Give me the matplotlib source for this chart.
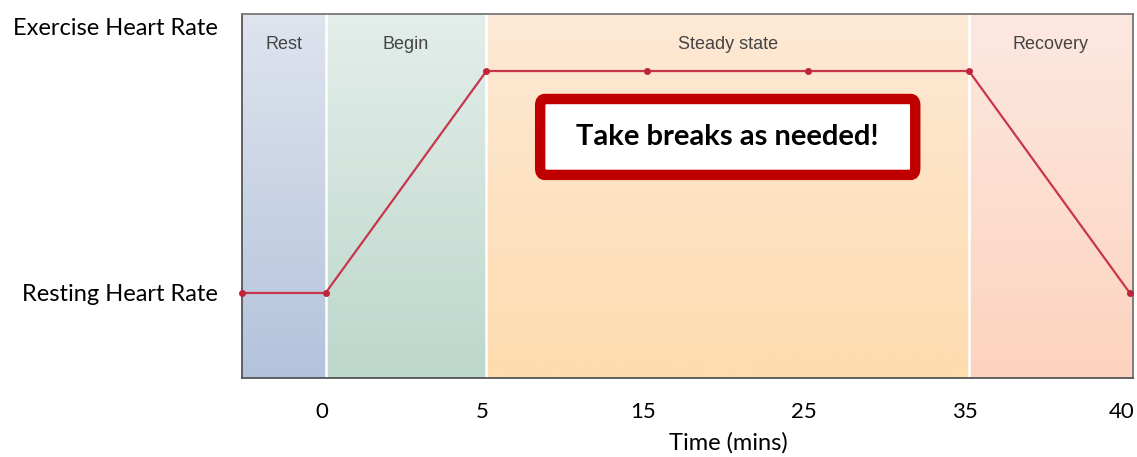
import numpy as np
import matplotlib
matplotlib.use("Agg")
import matplotlib.pyplot as plt
import matplotlib.transforms as mtransforms
from matplotlib.colors import LinearSegmentedColormap
from matplotlib.patches import FancyBboxPatch

# data
tick_labels = ["0", "5", "15", "25", "35", "40"]
x_pos = [-0.52, 0, 1, 2, 3, 4, 5]
heart = [0, 0, 1, 1, 1, 1, 0]          # 0 = resting, 1 = exercise
phase_names = ["Rest", "Begin", "Steady state", "Recovery"]
phase_edges = [-0.52, 0, 1, 4, 5.02]
phase_top = ["#dfe4ee", "#e4eeea", "#fde9d6", "#fde8e0"]
phase_bottom = ["#b3c3dc", "#bcd7cc", "#fddcae", "#fcd3be"]

plt.rcParams['font.family'] = ['Lato', 'DejaVu Sans']

fig = plt.figure(figsize=(11.37, 4.57), dpi=100)
ax = fig.add_axes([0.2128, 0.1729, 0.7837, 0.7965])
ylo, yhi = -0.383, 1.257

# shaded phases with a vertical gradient
grad = np.linspace(0, 1, 256).reshape(-1, 1)
for i in range(4):
    cm = LinearSegmentedColormap.from_list("p%d" % i, [phase_bottom[i], phase_top[i]])
    ax.imshow(grad, cmap=cm, aspect="auto", origin="lower",
              extent=[phase_edges[i], phase_edges[i + 1], ylo, yhi], zorder=0)
    ax.text((phase_edges[i] + phase_edges[i + 1]) / 2, 1.12, phase_names[i],
            ha="center", va="center", fontsize=13, color="#444444",
            family=["Liberation Sans", "DejaVu Sans"], zorder=3)
for e in phase_edges[1:4]:
    ax.axvline(e, color="white", lw=1.8, zorder=1)

ax.plot(x_pos, heart, color="#c8364b", lw=1.6, marker="o", ms=4,
        mfc="#c0243a", mec="#c0243a", zorder=4, clip_on=False)

# red message box
box = FancyBboxPatch((1.334, 0.532), 2.332, 0.342,
                     boxstyle="round,pad=0,rounding_size=0.03",
                     fc="white", ec="#c00000", lw=7.5, zorder=5)
ax.add_patch(box)
ax.text(2.5, 0.703, "Take breaks as needed!", ha="center", va="center",
        fontsize=21, fontweight="bold", color="black", zorder=6)

ax.set_xlim(phase_edges[0], phase_edges[-1])
ax.set_ylim(ylo, yhi)
ax.set_xticks(range(6))
ax.set_xticklabels(tick_labels, fontsize=16)
ax.set_yticks([0, 1.2])
ax.set_yticklabels(["Resting Heart Rate", "Exercise Heart Rate"], fontsize=17)
ax.tick_params(length=0, axis="y", pad=17)
ax.tick_params(length=0, axis="x", pad=17)
ax.set_xlabel("Time (mins)", fontsize=17)
ax.xaxis.set_label_coords(0.5455, -0.148)

# nudge x tick labels slightly left, as in the original
for i, lab in enumerate(ax.get_xticklabels()):
    dx = -8 if i == len(tick_labels) - 1 else -4
    lab.set_transform(lab.get_transform() +
                      mtransforms.ScaledTranslation(dx / 100, 0, fig.dpi_scale_trans))

for s in ax.spines.values():
    s.set_color("#777777")
    s.set_linewidth(1.3)
ax.spines["bottom"].set_color("#555555")
ax.spines["left"].set_color("#555555")

fig.savefig("out.png", dpi=100)
